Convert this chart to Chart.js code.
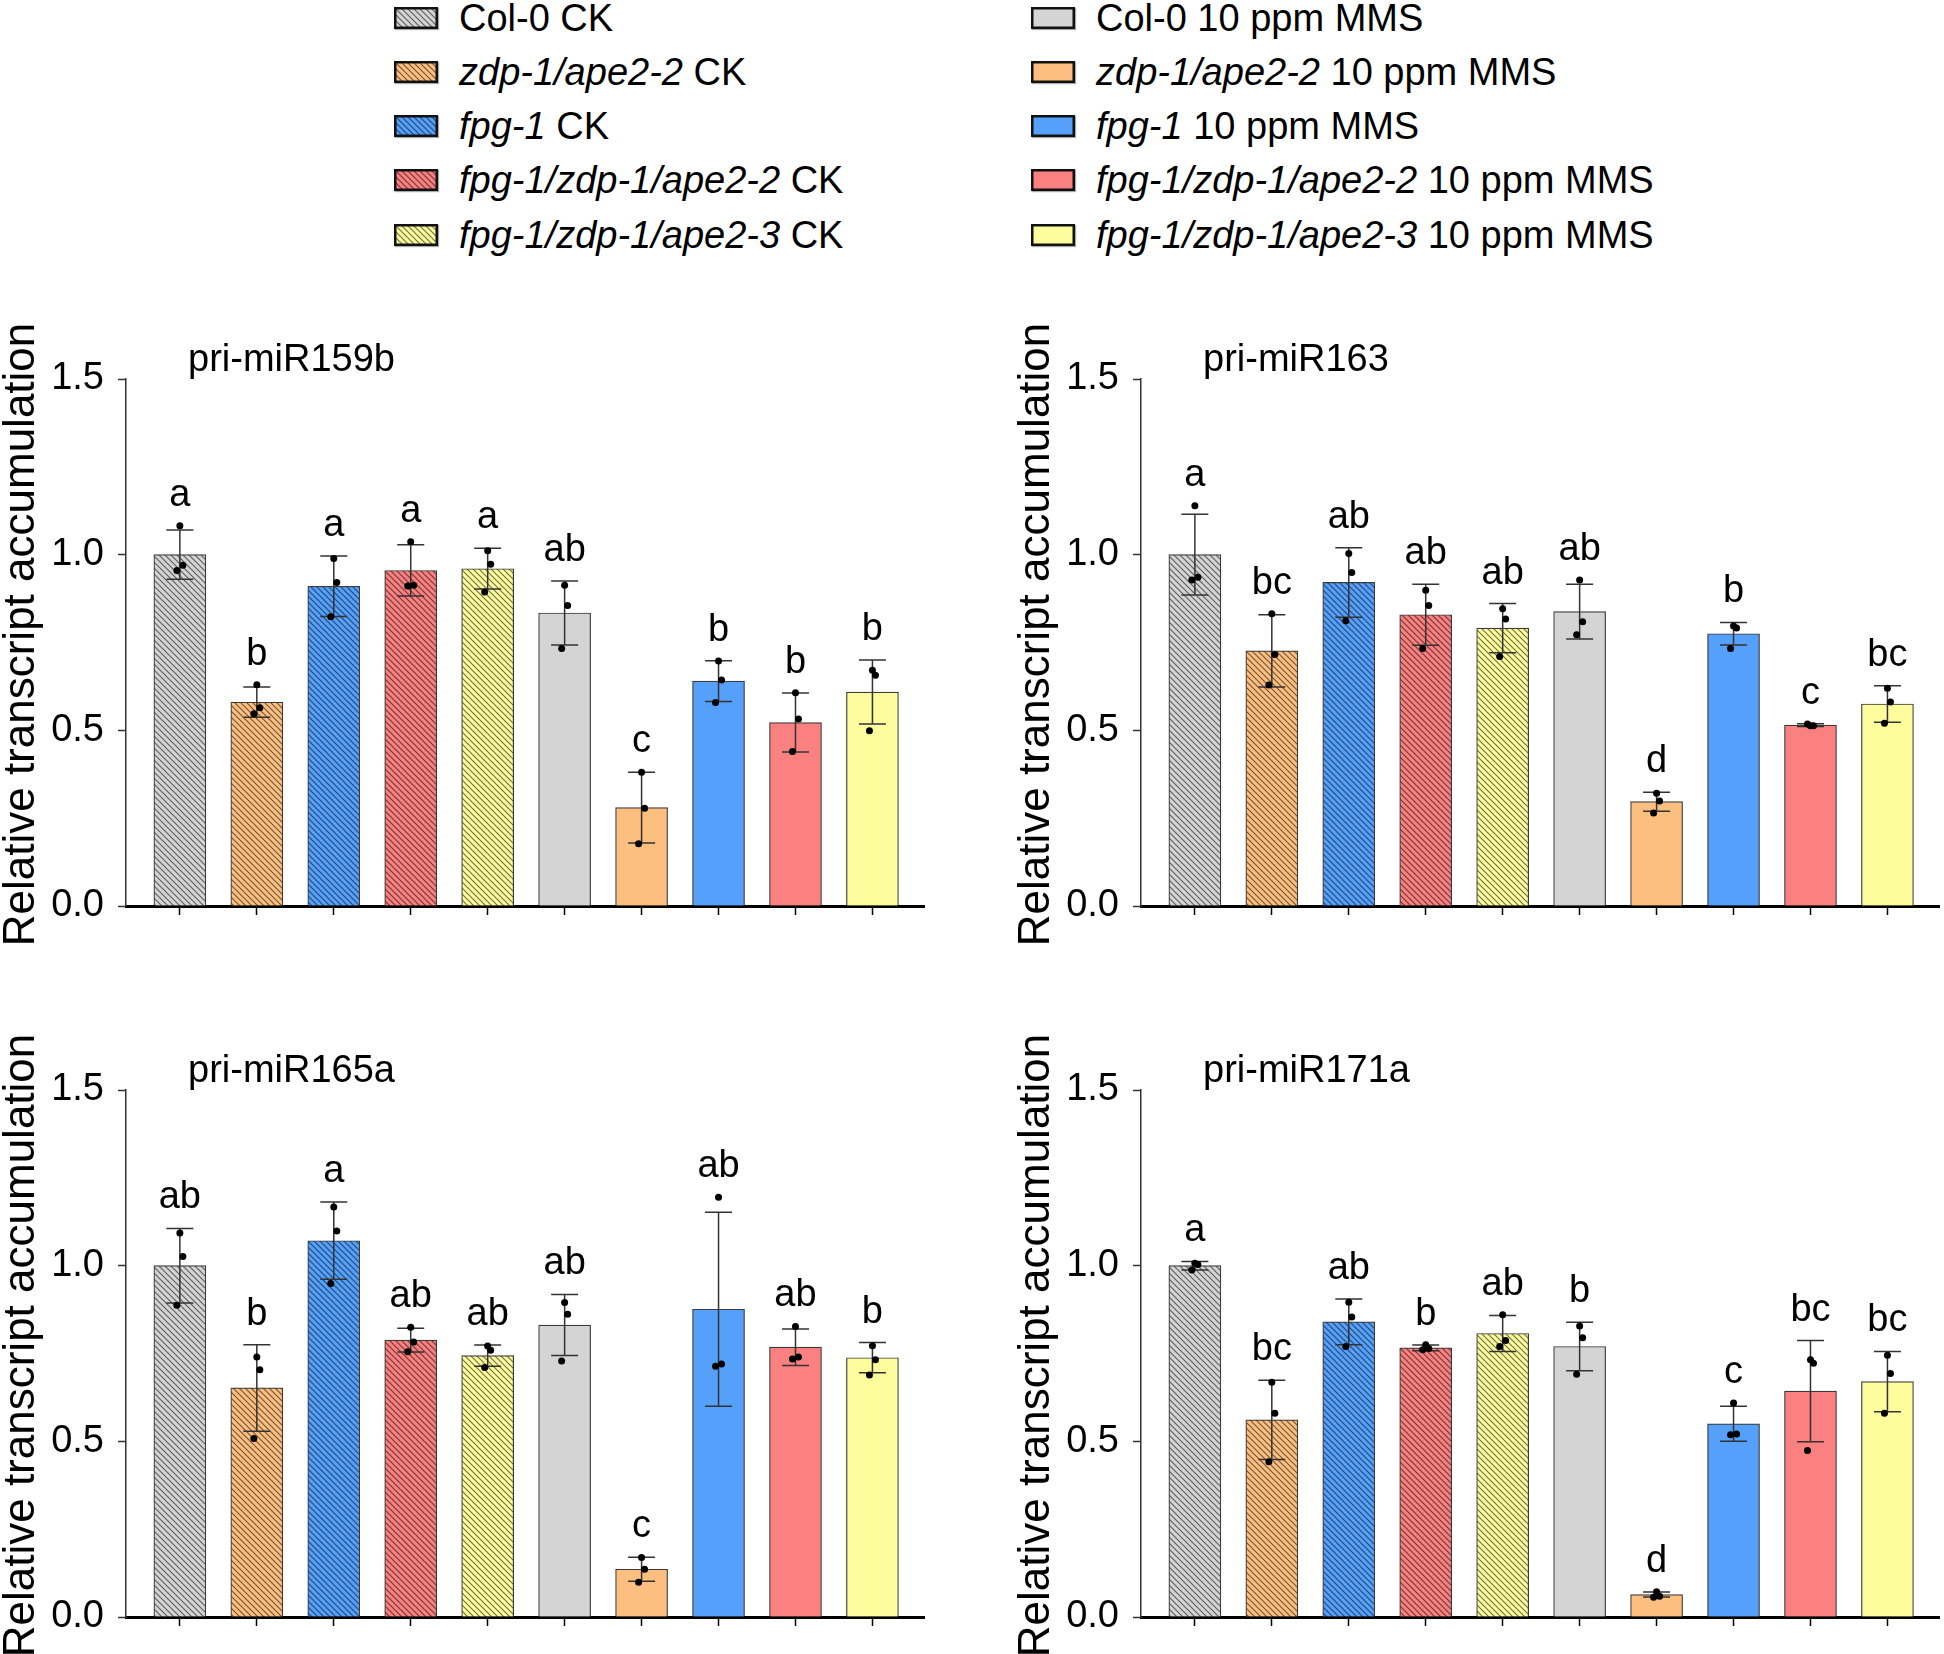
<!DOCTYPE html>
<html>
<head>
<meta charset="utf-8">
<script src="https://cdn.jsdelivr.net/npm/chart.js@4.4.1/dist/chart.umd.min.js"></script>
<style>
  body { margin: 0; background: #fff; overflow: hidden; width: 1944px; height: 1654px; position: relative;
         font-family: "Liberation Sans", Arial, sans-serif; }
  .panel { position: absolute; }
  .lg { position: absolute; display: flex; align-items: center; height: 22px; font-size: 38px; white-space: nowrap; color: #000; }
  .lg canvas { margin-right: 21px; box-shadow: 1px 1px 1px #aaa; }
</style>
</head>
<body>
<div id="legend"></div>
<canvas id="p159b" class="panel" width="930" height="680" style="left:0;top:300px"></canvas>
<canvas id="p163" class="panel" width="930" height="680" style="left:1015px;top:300px"></canvas>
<canvas id="p165a" class="panel" width="930" height="680" style="left:0;top:1011px"></canvas>
<canvas id="p171a" class="panel" width="930" height="680" style="left:1015px;top:1011px"></canvas>
<script>
const genotypes = ["Col-0", "zdp-1/ape2-2", "fpg-1", "fpg-1/zdp-1/ape2-2", "fpg-1/zdp-1/ape2-3"];
const treatments = ["CK", "10 ppm MMS"];
const categories = treatments.flatMap(t => genotypes.map(g => g + " " + t));
const yTicks = [0, 0.5, 1.0, 1.5];
const yTitle = "Relative transcript accumulation";

// pri-miR159b
const mean159b = [1.00, 0.58, 0.91, 0.955, 0.96, 0.834, 0.28, 0.64, 0.522, 0.609];
const sd159b = [0.07, 0.043, 0.086, 0.073, 0.058, 0.091, 0.101, 0.058, 0.084, 0.091];
const reps159b = [[1.082, 0.97, 0.955], [0.63, 0.564, 0.547], [0.989, 0.921, 0.823], [1.037, 0.913, 0.911],
  [1.011, 0.973, 0.894], [0.913, 0.855, 0.733], [0.381, 0.278, 0.177], [0.697, 0.643, 0.579],
  [0.607, 0.532, 0.44], [0.671, 0.657, 0.499]];
const letters159b = ["a", "b", "a", "a", "a", "ab", "c", "b", "b", "b"];

// pri-miR163
const mean163 = [1.00, 0.726, 0.921, 0.829, 0.791, 0.838, 0.297, 0.775, 0.515, 0.575];
const sd163 = [0.115, 0.103, 0.099, 0.087, 0.07, 0.078, 0.027, 0.032, 0.004, 0.052];
const reps163 = [[1.139, 0.936, 0.928], [0.832, 0.716, 0.629], [1.003, 0.949, 0.812], [0.899, 0.855, 0.733],
  [0.846, 0.817, 0.71], [0.928, 0.809, 0.772], [0.321, 0.299, 0.265], [0.797, 0.791, 0.733],
  [0.513, 0.513, 0.518], [0.62, 0.581, 0.52]];
const letters163 = ["a", "bc", "ab", "ab", "ab", "ab", "d", "b", "c", "bc"];

// pri-miR165a
const mean165a = [1.00, 0.652, 1.071, 0.788, 0.744, 0.831, 0.136, 0.876, 0.768, 0.738];
const sd165a = [0.106, 0.123, 0.11, 0.034, 0.03, 0.087, 0.034, 0.276, 0.052, 0.043];
const reps165a = [[1.093, 1.026, 0.887], [0.74, 0.704, 0.508], [1.167, 1.099, 0.949], [0.825, 0.783, 0.755],
  [0.771, 0.759, 0.71], [0.895, 0.862, 0.729], [0.169, 0.136, 0.099], [1.195, 0.72, 0.714],
  [0.827, 0.74, 0.734], [0.772, 0.732, 0.689]];
const letters165a = ["ab", "b", "a", "ab", "ab", "ab", "c", "ab", "ab", "b"];

// pri-miR171a
const mean171a = [1.00, 0.561, 0.84, 0.766, 0.807, 0.77, 0.064, 0.55, 0.643, 0.67];
const sd171a = [0.012, 0.113, 0.065, 0.008, 0.051, 0.069, 0.007, 0.05, 0.144, 0.086];
const reps171a = [[1.007, 1.003, 0.988], [0.668, 0.58, 0.442], [0.896, 0.854, 0.77], [0.775, 0.764, 0.761],
  [0.86, 0.787, 0.77], [0.828, 0.795, 0.691], [0.072, 0.059, 0.056], [0.609, 0.521, 0.519],
  [0.732, 0.722, 0.474], [0.745, 0.693, 0.58]];
const letters171a = ["a", "bc", "ab", "b", "ab", "b", "d", "c", "bc", "bc"];

const genotypeColors = ["#d4d4d4", "#fdbf80", "#55a0fb", "#fb8080", "#fdfd9d"];
const FONT = '"Liberation Sans", Arial, sans-serif';

function hatch(ctx, color) {
  const t = document.createElement("canvas");
  t.width = 6; t.height = 6;
  const g = t.getContext("2d");
  g.fillStyle = color;
  g.fillRect(0, 0, 6, 6);
  g.strokeStyle = "rgba(0,0,0,0.55)";
  g.lineWidth = 1.2;
  g.beginPath();
  g.moveTo(-1, -1); g.lineTo(7, 7);
  g.moveTo(-1, 5); g.lineTo(1, 7);
  g.moveTo(5, -1); g.lineTo(7, 1);
  g.stroke();
  return ctx.createPattern(t, "repeat");
}

function fillFor(ctx, i) {
  const color = genotypeColors[i % genotypes.length];
  return i < genotypes.length ? hatch(ctx, color) : color;
}

// legend
const legend = document.getElementById("legend");
const rowY = [18, 72, 126, 180, 235];
categories.forEach((cat, i) => {
  const g = i % genotypes.length;
  const t = Math.floor(i / genotypes.length);
  const row = document.createElement("div");
  row.className = "lg";
  row.style.left = (t === 0 ? 394 : 1031) + "px";
  row.style.top = (rowY[g] - 11) + "px";
  const sw = document.createElement("canvas");
  sw.width = 44; sw.height = 22;
  const sctx = sw.getContext("2d");
  sctx.fillStyle = fillFor(sctx, i);
  sctx.fillRect(0, 0, 44, 22);
  sctx.strokeStyle = "#111";
  sctx.lineWidth = 2.5;
  sctx.strokeRect(1.25, 1.25, 41.5, 19.5);
  row.appendChild(sw);
  const name = document.createElement("span");
  name.textContent = genotypes[g];
  if (g > 0) name.style.fontStyle = "italic";
  row.appendChild(name);
  row.appendChild(document.createTextNode("\u00a0" + treatments[t]));
  legend.appendChild(row);
});

const extras = {
  id: "panelExtras",
  afterDatasetsDraw(chart, args, opts) {
    const { ctx, chartArea, scales: { y } } = chart;
    const bars = chart.getDatasetMeta(0).data;
    const jitter = [0, 3, -3];
    ctx.save();
    bars.forEach((bar, i) => {
      const m = chart.data.datasets[0].data[i].y;
      const top = y.getPixelForValue(m + opts.sds[i]);
      const bot = y.getPixelForValue(m - opts.sds[i]);
      ctx.strokeStyle = "#333";
      ctx.lineWidth = 1.5;
      ctx.beginPath();
      ctx.moveTo(bar.x, top); ctx.lineTo(bar.x, bot);
      ctx.moveTo(bar.x - 13.5, top); ctx.lineTo(bar.x + 13.5, top);
      ctx.moveTo(bar.x - 13.5, bot); ctx.lineTo(bar.x + 13.5, bot);
      ctx.stroke();
      let highest = top;
      ctx.fillStyle = "#000";
      opts.reps[i].forEach((r, j) => {
        const py = y.getPixelForValue(r);
        highest = Math.min(highest, py);
        ctx.beginPath();
        ctx.arc(bar.x + jitter[j], py, 3.5, 0, Math.PI * 2);
        ctx.fill();
      });
      ctx.font = "38px " + FONT;
      ctx.textAlign = "center";
      ctx.textBaseline = "alphabetic";
      ctx.fillText(opts.letters[i], bar.x, highest - 20);
    });
    ctx.font = "38px " + FONT;
    ctx.textAlign = "left";
    ctx.fillText(opts.title, chartArea.left + 62, chartArea.top - 8);

    // y axis title, a little above the axis centre as in the original
    ctx.translate(22, (chartArea.top + chartArea.bottom) / 2 - 8);
    ctx.rotate(-Math.PI / 2);
    ctx.font = "44px " + FONT;
    ctx.textAlign = "center";
    ctx.textBaseline = "middle";
    ctx.fillText(yTitle, 0, 0);
    ctx.restore();
  },
};

function makePanel(id, title, means, sds, reps, letters) {
  const ctx = document.getElementById(id).getContext("2d");
  return new Chart(ctx, {
    type: "bar",
    data: {
      datasets: [{
        data: categories.map((c, i) => ({ x: i, y: means[i] })),
        backgroundColor: categories.map((c, i) => fillFor(ctx, i)),
        borderColor: "#3a3a3a",
        borderWidth: 1.2,
        barThickness: 52,
      }],
    },
    options: {
      responsive: false,
      animation: false,
      devicePixelRatio: 1,
      layout: { padding: { top: 79, right: 6, bottom: 54, left: 0 } },
      plugins: {
        legend: { display: false },
        tooltip: { enabled: false },
        panelExtras: { title, sds, reps, letters },
      },
      scales: {
        x: {
          type: "linear",
          offset: false,
          min: -0.7,
          max: 9.67,
          afterBuildTicks: (s) => { s.ticks = categories.map((c, i) => ({ value: i })); },
          afterFit: (s) => { s.height = 20; },
          ticks: { display: false },
          grid: { offset: false, drawOnChartArea: false, drawTicks: true, tickLength: 9, tickWidth: 1.5, tickColor: "#000" },
          border: { display: true, width: 3, color: "#000" },
        },
        y: {
          min: 0,
          max: 1.5,
          afterBuildTicks: (s) => { s.ticks = yTicks.map((v) => ({ value: v })); },
          afterFit: (s) => { s.width = 126; },
          ticks: { callback: (v) => v.toFixed(1), font: { size: 38, family: FONT }, color: "#000", padding: 14 },
          grid: { drawOnChartArea: false, tickLength: 8, tickWidth: 1.5, tickColor: "#333" },
          border: { width: 1.5, color: "#333" },
        },
      },
    },
    plugins: [extras],
  });
}

makePanel("p159b", "pri-miR159b", mean159b, sd159b, reps159b, letters159b);
makePanel("p163", "pri-miR163", mean163, sd163, reps163, letters163);
makePanel("p165a", "pri-miR165a", mean165a, sd165a, reps165a, letters165a);
makePanel("p171a", "pri-miR171a", mean171a, sd171a, reps171a, letters171a);
</script>
</body>
</html>
